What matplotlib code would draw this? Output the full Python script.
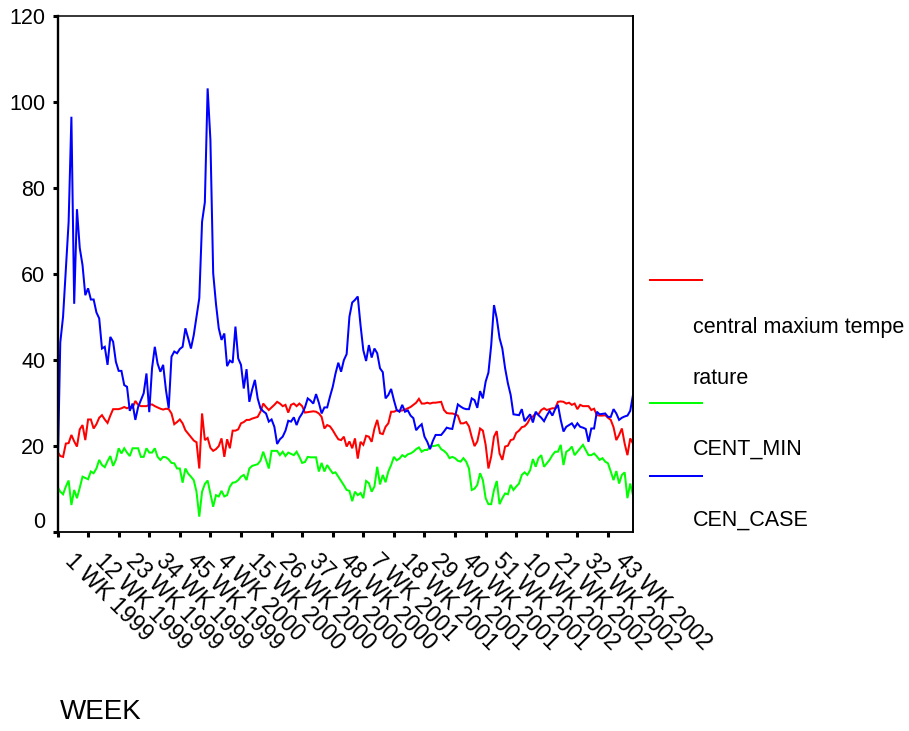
import matplotlib
matplotlib.use("Agg")
import matplotlib.pyplot as plt
from matplotlib.lines import Line2D
from matplotlib.transforms import ScaledTranslation, blended_transform_factory
import numpy as np

plt.rcParams['font.family'] = ['Liberation Sans', 'DejaVu Sans']

# Weekly series, week 1 1999 through week 52 2002
central_max_temp = [
    18.6, 17.6, 17.4, 20.5, 20.6, 22.5, 21.0, 19.8, 23.8, 24.8,
    21.3, 26.1, 26.1, 24.0, 25.0, 26.5, 27.1, 26.1, 25.3, 27.0,
    28.5, 28.5, 28.5, 28.7, 29.0, 28.7, 29.0, 28.8, 30.4, 29.5,
    29.2, 29.2, 29.2, 29.5, 29.6, 29.2, 28.9, 28.6, 28.4, 28.6,
    28.5, 27.5, 25.0, 25.5, 26.1, 25.2, 23.6, 22.8, 22.0, 21.2,
    20.8, 14.7, 27.5, 21.3, 21.8, 19.5, 18.8, 19.2, 19.9, 21.7,
    17.4, 21.5, 19.4, 23.5, 23.5, 23.8, 25.2, 25.5, 26.0, 26.0,
    26.3, 26.5, 26.7, 27.9, 29.8, 29.0, 28.3, 28.9, 29.5, 30.2,
    29.8, 29.2, 29.5, 27.7, 29.5, 29.8, 29.2, 29.8, 29.2, 27.7,
    27.8, 27.9, 28.0, 27.9, 27.5, 26.7, 24.0, 24.8, 24.5, 23.6,
    22.5, 21.5, 21.3, 22.1, 19.8, 21.0, 19.4, 21.7, 17.0, 20.9,
    20.2, 22.3, 22.1, 20.9, 24.0, 26.0, 22.9, 22.7, 24.4, 25.2,
    27.9, 27.9, 28.2, 28.1, 28.2, 28.4, 28.7, 29.0, 29.5, 30.0,
    30.9, 29.8, 29.8, 30.0, 29.8, 30.0, 30.0, 30.1, 30.2, 28.3,
    27.6, 27.5, 27.5, 27.3, 27.0, 25.2, 25.2, 25.5, 24.5, 22.0,
    19.9, 21.0, 24.0, 23.5, 20.2, 14.7, 17.5, 22.1, 23.4, 18.2,
    16.7, 19.8, 20.0, 21.3, 21.5, 23.0, 23.5, 24.3, 24.5, 25.2,
    26.4, 26.8, 27.5, 27.3, 28.3, 28.7, 28.3, 28.5, 28.7, 28.7,
    30.2, 30.3, 30.2, 29.8, 30.0, 29.5, 29.8, 28.5, 29.5, 29.2,
    29.2, 29.2, 28.3, 28.6, 27.1, 27.0, 27.0, 27.1, 26.5, 26.0,
    24.3, 21.3, 22.5, 24.0, 20.5, 17.8, 21.7, 20.5,
]

cent_min = [
    10.5, 9.3, 8.7, 10.5, 11.9, 6.2, 9.7, 7.8, 10.2, 12.8,
    12.5, 12.2, 14.0, 13.6, 14.7, 16.7, 15.5, 15.0, 16.4, 17.6,
    15.3, 16.7, 19.4, 18.2, 19.4, 18.4, 17.6, 19.4, 19.4, 19.4,
    17.4, 17.4, 19.4, 18.4, 18.4, 19.4, 17.4, 16.7, 17.4, 17.3,
    16.8, 16.0, 15.9, 14.7, 14.7, 11.4, 14.7, 13.5, 12.8, 12.0,
    9.3, 3.5, 9.3, 11.1, 11.9, 8.9, 5.8, 8.5, 8.2, 9.5,
    8.2, 8.5, 10.5, 11.4, 11.5, 12.0, 12.8, 13.2, 12.0, 14.7,
    15.3, 15.5, 15.7, 16.5, 18.6, 16.7, 14.7, 18.8, 18.8, 18.8,
    17.8, 18.6, 17.6, 18.4, 18.1, 17.8, 18.6, 17.4, 16.0, 16.2,
    17.4, 17.3, 17.3, 17.3, 14.0, 16.0, 14.0, 15.5, 14.5, 13.6,
    13.8, 12.8, 11.8, 10.8, 9.7, 9.5, 7.1, 9.3, 8.5, 9.0,
    7.8, 11.8, 11.3, 9.3, 10.5, 15.1, 11.0, 13.2, 11.5, 14.0,
    15.5, 17.4, 16.6, 17.0, 17.8, 17.4, 18.0, 18.2, 18.6, 19.2,
    19.6, 18.6, 19.0, 19.0, 19.8, 19.9, 20.0, 20.2, 19.2, 18.8,
    18.2, 17.1, 17.4, 17.1, 16.5, 16.3, 17.1, 16.3, 14.7, 9.7,
    10.0, 10.9, 13.6, 12.0, 7.8, 6.4, 6.4, 9.7, 11.8, 6.4,
    7.8, 8.9, 8.7, 10.9, 9.7, 10.5, 11.2, 13.2, 13.8, 13.2,
    14.3, 16.9, 15.1, 17.1, 17.8, 15.1, 15.9, 16.7, 17.8, 18.6,
    18.6, 20.2, 15.5, 18.6, 19.0, 19.8, 17.8, 18.6, 19.4, 20.2,
    19.0, 17.8, 17.8, 18.2, 17.5, 16.7, 17.1, 16.3, 15.9, 14.0,
    12.0, 14.1, 11.2, 13.2, 13.8, 7.8, 11.2, 8.5,
]

cen_case = [
    12.0, 44.0, 50.0, 61.0, 72.0, 96.5, 53.0, 75.0, 66.0, 62.0,
    55.0, 56.6, 54.0, 54.0, 51.0, 49.6, 42.6, 43.0, 38.8, 45.3,
    44.2, 39.5, 37.4, 37.4, 34.1, 33.7, 28.1, 29.8, 26.0, 29.0,
    30.6, 32.2, 36.8, 27.8, 38.0, 43.0, 39.1, 37.2, 38.8, 33.0,
    28.7, 40.7, 41.9, 41.5, 42.5, 43.0, 47.3, 45.0, 42.6, 45.7,
    50.0, 54.3, 72.1, 76.6, 103.1, 91.1, 60.1, 53.0, 47.3, 44.6,
    46.1, 38.5, 39.8, 39.3, 47.7, 40.3, 38.8, 33.3, 37.8, 30.2,
    33.0, 35.3, 31.0, 28.7, 28.0, 27.5, 25.6, 26.1, 24.4, 20.4,
    21.5, 22.1, 23.5, 25.8, 25.6, 26.6, 24.8, 26.5, 27.5, 28.9,
    31.0, 30.5, 29.8, 32.0, 30.0, 27.5, 28.9, 28.9, 31.4, 33.7,
    36.8, 39.3, 37.2, 39.9, 41.3, 50.0, 53.3, 53.9, 54.7, 48.0,
    42.2, 39.7, 43.4, 40.5, 42.6, 41.5, 38.0, 37.1, 31.0, 31.8,
    33.2, 30.6, 28.3, 27.9, 29.5, 27.9, 28.2, 27.0, 26.4, 23.6,
    24.4, 25.0, 22.1, 20.9, 19.2, 21.1, 22.5, 22.5, 22.5, 23.3,
    24.2, 24.0, 23.9, 26.7, 29.6, 29.1, 28.7, 28.5, 28.5, 31.0,
    30.6, 28.8, 32.7, 31.0, 34.9, 37.0, 43.4, 52.7, 49.6, 45.0,
    42.6, 38.0, 34.5, 31.8, 27.3, 27.2, 27.1, 28.5, 25.7, 26.5,
    27.3, 25.4, 27.9, 27.1, 26.5, 25.7, 27.0, 28.1, 27.0, 28.5,
    29.5, 26.0, 23.3, 24.4, 24.8, 25.2, 24.2, 25.2, 24.4, 24.2,
    23.9, 20.9, 24.0, 24.0, 27.9, 27.3, 27.4, 27.5, 26.7, 26.7,
    28.5, 27.5, 26.0, 26.5, 26.8, 27.0, 28.1, 31.8,
]

series_names = ["central maxium temperature", "CENT_MIN", "CEN_CASE"]
series_colors = ["#ff0000", "#00ff00", "#0000ff"]

tick_labels = [
    "1 WK 1999", "12 WK 1999", "23 WK 1999", "34 WK 1999", "45 WK 1999",
    "4 WK 2000", "15 WK 2000", "26 WK 2000", "37 WK 2000", "48 WK 2000",
    "7 WK 2001", "18 WK 2001", "29 WK 2001", "40 WK 2001", "51 WK 2001",
    "10 WK 2002", "21 WK 2002", "32 WK 2002", "43 WK 2002",
]
tick_step = 11
y_ticks = [0, 20, 40, 60, 80, 100, 120]

W, H = 909, 731
fig = plt.figure(figsize=(W / 100, H / 100), dpi=100)
fig.patch.set_facecolor("white")


def fx(px):
    return px / W


def fy(py):
    return 1 - py / H


ax = fig.add_axes([fx(57.5), fy(531.7), fx(633) - fx(57.5), fy(15.7) - fy(531.7)])

weeks = np.arange(len(cen_case))
for values, color in zip([central_max_temp, cent_min, cen_case], series_colors):
    ax.plot(weeks, values, color=color, lw=1.45, solid_joinstyle="miter")

ax.set_xlim(0, len(weeks) - 1)
ax.set_ylim(0, 120)
ax.set_yticks(y_ticks)
ax.set_xticks(weeks[::tick_step][:len(tick_labels)])
ax.tick_params(axis="both", direction="out", length=3.6, width=2.2,
               color="black", labelleft=False, labelbottom=False)

for side, lw in [("left", 1.7), ("bottom", 1.3), ("top", 1.1), ("right", 1.4)]:
    ax.spines[side].set_linewidth(lw)
    ax.spines[side].set_color("black")

# y tick labels
ytrans = blended_transform_factory(ax.transAxes, ax.transData)
for v in y_ticks:
    dy = 9 if v == 0 else -2.5
    ax.text(0, v, str(v), fontsize=15.5, ha="right", va="center",
            transform=ytrans + ScaledTranslation(-12 / 100, dy / 100, fig.dpi_scale_trans))

# slanted x tick labels
xtrans = blended_transform_factory(ax.transData, ax.transAxes)
for pos, lab in zip(weeks[::tick_step], tick_labels):
    ax.text(pos, 0, lab, fontsize=16.5, ha="left", va="baseline",
            rotation=-45, rotation_mode="anchor",
            transform=xtrans + ScaledTranslation(6 / 100, -30 / 100, fig.dpi_scale_trans))

# legend on the right: line sample above its label, long labels split at 20 chars
legend_rows = [
    (280, [327, 378]),
    (403, [449]),
    (476, [520]),
]
wrap_width = 20
for name, color, (line_y, text_ys) in zip(series_names, series_colors, legend_rows):
    fig.add_artist(Line2D([fx(650), fx(702)], [fy(line_y)] * 2,
                          color=color, lw=1.45, transform=fig.transFigure))
    parts = [name[k:k + wrap_width] for k in range(0, len(name), wrap_width)]
    for part, ty in zip(parts, text_ys):
        fig.text(fx(693), fy(ty), part, fontsize=15.5, ha="left", va="center")

fig.text(fx(60), fy(712), "WEEK", fontsize=20, ha="left", va="center")

fig.savefig("out.png", dpi=100, facecolor="white")
